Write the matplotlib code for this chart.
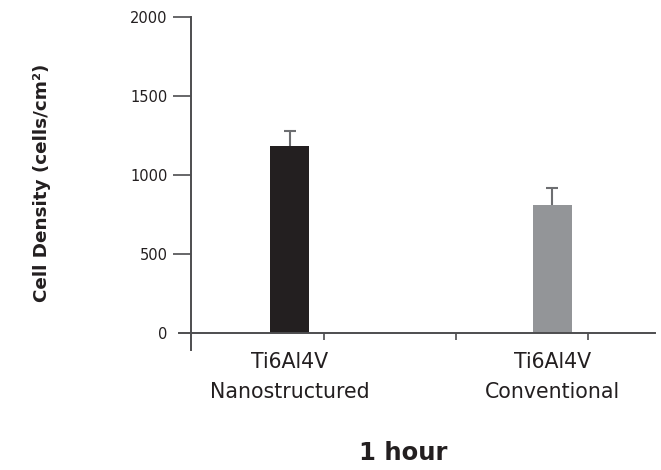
import matplotlib
matplotlib.use('Agg')
import matplotlib.pyplot as plt

# data
groups = ['Ti6Al4V\nNanostructured', 'Ti6Al4V\nConventional']
density = [1185, 810]
err = [95, 108]
bar_colors = ['#231f20', '#939598']
yticks = [0, 500, 1000, 1500, 2000]
xtick_marks = [0.131, 0.634, 1.137]

plt.rcParams['font.family'] = ['DejaVu Sans']

fig = plt.figure(figsize=(6.61, 4.70), dpi=100)
W, H = 661, 470
ax = fig.add_axes([179 / W, (H - 350) / H, (655 - 179) / W, (350 - 17) / H])

x = list(range(len(groups)))
ax.bar(x, density, width=0.149, color=bar_colors, zorder=2)
# upper-only error bars: stem plus a cap at the top
ax.errorbar(x, density, yerr=[[0, 0], err], fmt='none', ecolor='#6d6e71',
            elinewidth=1.5, capsize=0, zorder=1)
tops = [d + e for d, e in zip(density, err)]
ax.plot(x, tops, linestyle='none', marker='_', markersize=8,
        markeredgewidth=1.5, color='#6d6e71', zorder=3)

ax.set_xlim(-0.421, 1.392)
ax.set_ylim(-107.6, 2000)

axis_col = '#4d4d4f'
for s in ['top', 'right']:
    ax.spines[s].set_visible(False)
ax.spines['left'].set_position(('data', -0.375))
ax.spines['bottom'].set_position(('data', 0))
for s in ['left', 'bottom']:
    ax.spines[s].set_color(axis_col)
    ax.spines[s].set_linewidth(1.4)

ax.set_yticks(yticks)
ax.set_yticklabels([str(v) for v in yticks])
ax.tick_params(axis='y', direction='out', length=13, width=1.2, color=axis_col,
               labelsize=10.5, labelcolor='#231f20', pad=4)
ax.yaxis.get_major_ticks()[0].tick1line.set_visible(False)

ax.set_xticks(xtick_marks)
ax.set_xticklabels([])
ax.tick_params(axis='x', which='major', direction='out', length=5, width=1.2,
               color=axis_col)
ax.set_xticks(x, minor=True)
ax.set_xticklabels(groups, minor=True, fontsize=14.8, color='#231f20',
                   linespacing=1.6)
ax.tick_params(axis='x', which='minor', length=0, pad=14)

fig.text(42 / W, 1 - 183 / H, 'Cell Density (cells/cm²)', rotation=90,
         ha='center', va='center', fontsize=13.2, fontweight='bold',
         color='#231f20')
fig.text(403 / W, 1 - 453 / H, '1 hour', ha='center', va='center',
         fontsize=17.5, fontweight='bold', color='#231f20')

fig.savefig('out.png', dpi=100)
